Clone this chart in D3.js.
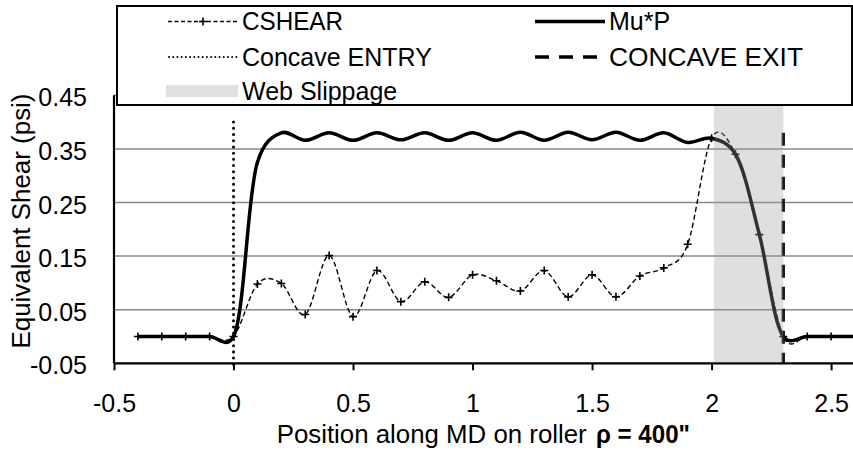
<!DOCTYPE html>
<html>
<head>
<meta charset="utf-8">
<script src="https://cdn.jsdelivr.net/npm/d3@7"></script>
<style>
  html, body { margin: 0; padding: 0; background: #fff; }
  svg { display: block; }
</style>
</head>
<body>
<svg id="chart" width="853" height="457"></svg>
<script>
// Position along the machine direction (in), sampled every 0.1
const positions = [-0.4, -0.3, -0.2, -0.1, 0, 0.1, 0.2, 0.3, 0.4, 0.5, 0.6, 0.7, 0.8, 0.9, 1.0,
  1.1, 1.2, 1.3, 1.4, 1.5, 1.6, 1.7, 1.8, 1.9, 2.0, 2.1, 2.2, 2.3, 2.4, 2.5, 2.6];

// Computed shear (psi)
const cshear = [0, 0, 0, 0, 0, 0.098, 0.099, 0.041, 0.151, 0.037, 0.123, 0.065, 0.102, 0.073, 0.115,
  0.104, 0.085, 0.123, 0.074, 0.115, 0.074, 0.113, 0.128, 0.172, 0.370, 0.340, 0.190, 0, 0, 0, 0];

// Friction limit mu*P (psi)
const muP = [0, 0, 0, 0, 0, 0.325, 0.380, 0.366, 0.380, 0.366, 0.380, 0.367, 0.380, 0.366, 0.380,
  0.366, 0.381, 0.366, 0.381, 0.367, 0.381, 0.366, 0.380, 0.362, 0.370, 0.340, 0.190, 0, 0, 0, 0];

const concaveEntry = 0;
const concaveExit = 2.3;
const slippage = [2.01, 2.3];

const xTicks = [-0.5, 0, 0.5, 1, 1.5, 2, 2.5];
const xTickLabels = ["-0.5", "0", "0.5", "1", "1.5", "2", "2.5"];
const yTicks = [-0.05, 0.05, 0.15, 0.25, 0.35, 0.45];
const yTickLabels = ["-0.05", "0.05", "0.15", "0.25", "0.35", "0.45"];

const FONT = '"Liberation Sans", Arimo, Arial, sans-serif';

const svg = d3.select("#chart");
const x = d3.scaleLinear().domain([-0.5, 2.6]).range([114, 855]);
const y = d3.scaleLinear().domain([-0.05, 0.45]).range([363.3, 95.3]);
const plotL = x(-0.5), plotR = 853, plotB = y(-0.05), plotT = y(0.45);

// horizontal gridlines
svg.append("g").selectAll("line")
  .data(yTicks.filter(v => v > -0.05))
  .join("line")
  .attr("x1", plotL).attr("x2", plotR)
  .attr("y1", d => y(d)).attr("y2", d => y(d))
  .attr("stroke", "#8a8a8a").attr("stroke-width", 1.5);

// x axis
const xAxis = svg.append("g")
  .attr("transform", `translate(0,${plotB})`)
  .call(d3.axisBottom(x).tickValues(xTicks).tickFormat((d, i) => xTickLabels[i]).tickSize(7).tickSizeOuter(0));
xAxis.attr("font-family", FONT).attr("font-size", 25);
xAxis.select(".domain").attr("stroke", "#000").attr("stroke-width", 2.2).attr("d", `M${plotL},0H${plotR}`);
xAxis.selectAll(".tick line").attr("stroke", "#000").attr("stroke-width", 2);
xAxis.selectAll(".tick text").attr("y", 48.4).attr("dy", 0).attr("fill", "#000");

// y axis
const yAxis = svg.append("g")
  .attr("transform", `translate(${plotL},0)`)
  .call(d3.axisLeft(y).tickValues(yTicks).tickFormat((d, i) => yTickLabels[i]).tickSize(0).tickPadding(27));
yAxis.attr("font-family", FONT).attr("font-size", 25);
yAxis.select(".domain").attr("stroke", "#000").attr("stroke-width", 2.2).attr("d", `M0,${plotT}V${plotB}`);
yAxis.selectAll(".tick text").attr("dy", 10.5).attr("fill", "#000");

// curves: mu*P uses a lightly chord-weighted spline, the shear a uniform one
const muLine = d3.line()
  .x(d => x(d[0])).y(d => y(d[1]))
  .curve(d3.curveCatmullRom.alpha(0.25));
const csLine = d3.line()
  .x(d => x(d[0])).y(d => y(d[1]))
  .curve(d3.curveCardinal.tension(0));

const muPts = positions.map((p, i) => [p, muP[i]]);
const csPts = positions.map((p, i) => [p, cshear[i]]);

svg.append("path").attr("d", muLine(muPts))
  .attr("fill", "none").attr("stroke", "#000").attr("stroke-width", 3.5).attr("stroke-linejoin", "round");

svg.append("path").attr("d", csLine(csPts))
  .attr("fill", "none").attr("stroke", "#000").attr("stroke-width", 1.4).attr("stroke-dasharray", "5,3");

// "+" markers on the computed shear
svg.append("g").selectAll("path")
  .data(csPts.filter(d => x(d[0]) <= plotR))
  .join("path")
  .attr("d", "M-4,0H4M0,-4V4")
  .attr("transform", d => `translate(${x(d[0])},${y(d[1])})`)
  .attr("stroke", "#000").attr("stroke-width", 1.6).attr("fill", "none");

// concave entry / exit markers
svg.append("line")
  .attr("x1", x(concaveEntry)).attr("x2", x(concaveEntry))
  .attr("y1", y(0.40)).attr("y2", plotB + 2)
  .attr("stroke", "#000").attr("stroke-width", 3)
  .attr("stroke-linecap", "round").attr("stroke-dasharray", "0.01,6.2");

svg.append("line")
  .attr("x1", x(concaveExit)).attr("x2", x(concaveExit))
  .attr("y1", y(0.38)).attr("y2", plotB)
  .attr("stroke", "#111").attr("stroke-width", 3.3)
  .attr("stroke-dasharray", "13,9");

// web slippage band
svg.append("rect")
  .attr("x", x(slippage[0])).attr("width", x(slippage[1]) - x(slippage[0]))
  .attr("y", plotT).attr("height", plotB - plotT - 1)
  .attr("fill", "rgb(157,157,157)").attr("fill-opacity", 0.32);

// axis titles
svg.append("text")
  .attr("transform", `translate(30,221) rotate(-90)`)
  .attr("text-anchor", "middle")
  .attr("font-family", FONT).attr("font-size", 25)
  .attr("textLength", 255).attr("lengthAdjust", "spacingAndGlyphs")
  .text("Equivalent Shear (psi)");

svg.append("text")
  .attr("x", 276.7).attr("y", 443.3)
  .attr("font-family", FONT).attr("font-size", 25)
  .attr("textLength", 310).attr("lengthAdjust", "spacingAndGlyphs")
  .text("Position along MD on roller");
svg.append("text")
  .attr("x", 596).attr("y", 443.3)
  .attr("font-family", FONT).attr("font-size", 25).attr("font-weight", "bold")
  .attr("textLength", 94).attr("lengthAdjust", "spacingAndGlyphs")
  .text("\u03C1 = 400\"");

// legend
const lg = svg.append("g").attr("font-family", FONT);
lg.append("rect").attr("x", 117).attr("y", 6).attr("width", 735).attr("height", 99)
  .attr("fill", "#fff").attr("stroke", "#000").attr("stroke-width", 2);

const legendItems = [
  { label: "CSHEAR", col: 0, row: 0, kind: "cshear", w: 101 },
  { label: "Mu*P", col: 1, row: 0, kind: "mup", w: 0 },
  { label: "Concave ENTRY", col: 0, row: 1, kind: "entry", w: 0 },
  { label: "CONCAVE EXIT", col: 1, row: 1, kind: "exit", w: 194 },
  { label: "Web Slippage", col: 0, row: 2, kind: "band", w: 0 }
];
const colX = [168, 535];
const rowY = [21.5, 57, 91];

legendItems.forEach(it => {
  const x0 = colX[it.col], x1 = x0 + 70, yc = rowY[it.row];
  const g = lg.append("g");
  if (it.kind === "cshear") {
    g.append("line").attr("x1", x0).attr("x2", x1).attr("y1", yc).attr("y2", yc)
      .attr("stroke", "#000").attr("stroke-width", 1.4).attr("stroke-dasharray", "4,2.5");
    g.append("path").attr("d", `M${(x0 + x1) / 2 - 4},${yc}H${(x0 + x1) / 2 + 4}M${(x0 + x1) / 2},${yc - 4}V${yc + 4}`)
      .attr("stroke", "#000").attr("stroke-width", 1.6);
  } else if (it.kind === "mup") {
    g.append("line").attr("x1", x0).attr("x2", x1).attr("y1", yc).attr("y2", yc)
      .attr("stroke", "#000").attr("stroke-width", 3.5);
  } else if (it.kind === "entry") {
    g.append("line").attr("x1", x0 + 1).attr("x2", x1).attr("y1", yc).attr("y2", yc)
      .attr("stroke", "#000").attr("stroke-width", 2).attr("stroke-linecap", "round")
      .attr("stroke-dasharray", "0.01,4.2");
  } else if (it.kind === "exit") {
    g.append("line").attr("x1", x0).attr("x2", x1).attr("y1", yc).attr("y2", yc)
      .attr("stroke", "#000").attr("stroke-width", 3.5).attr("stroke-dasharray", "14,10");
  } else {
    g.append("rect").attr("x", x0 - 2).attr("y", yc - 6).attr("width", 72).attr("height", 12)
      .attr("fill", "#e0e0e0");
  }
  const t = g.append("text").attr("x", x1 + 4).attr("y", yc + 8.5)
    .attr("font-size", 25).text(it.label);
  if (it.w) t.attr("textLength", it.w).attr("lengthAdjust", "spacingAndGlyphs");
});
</script>
</body>
</html>
